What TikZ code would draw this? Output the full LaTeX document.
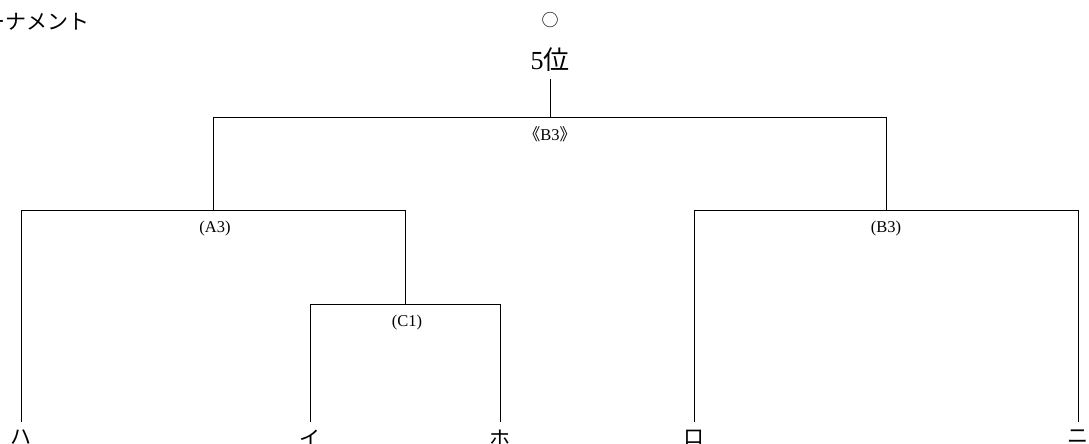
\documentclass[tikz,border=0pt]{standalone}
\usepackage{fontspec}
\setmainfont{Liberation Serif}
\newfontfamily\jp{Noto Sans CJK JP}
\tikzset{
  tline/.style={line width=0.9pt, black},
  leaf/.style={font=\jp\fontsize{21}{21}\selectfont, inner sep=0pt, anchor=north},
  mlabel/.style={font=\fontsize{16.5}{16.5}\selectfont, inner sep=0pt},
}
\begin{document}
\begin{tikzpicture}[x=1pt,y=-1pt]
\useasboundingbox (0,0) rectangle (1089,444);
% title and top
\node[font=\jp\fontsize{21}{21}\selectfont, inner sep=0pt, anchor=east] (title) at (90,22) {トーナメント};
\node[font=\jp\fontsize{17}{17}\selectfont, inner sep=0pt] (circ) at (550,20) {○};
\node[font=\fontsize{26}{26}\selectfont, inner sep=0pt] (rank) at (550,60) {5{\jp 位}};
% junction coordinates
\coordinate (top) at (550,79);
\coordinate (r) at (550,117);
\coordinate (rl) at (213,117);
\coordinate (rr) at (886,117);
\coordinate (a) at (213,210.5);
\coordinate (al) at (21,210.5);
\coordinate (ar) at (405,210.5);
\coordinate (c) at (405,304.5);
\coordinate (cl) at (310,304.5);
\coordinate (cr) at (500,304.5);
\coordinate (b) at (886,210.5);
\coordinate (bl) at (694,210.5);
\coordinate (br) at (1078,210.5);
% leaf ends
\coordinate (e1) at (21,422);
\coordinate (e2) at (310,422);
\coordinate (e3) at (500,422);
\coordinate (e4) at (694,422);
\coordinate (e5) at (1078,422);
% leaves
\node[leaf] (ha) at (21,430) {ハ};
\node[leaf] (i) at (310,430) {イ};
\node[leaf] (ho) at (500,430) {ホ};
\node[leaf] (ro) at (694,430) {ロ};
\node[leaf] (ni) at (1078,430) {ニ};
% match labels
\node[mlabel] (lr) at (550,134) {{\jp 《}B3{\jp 》}};
\node[mlabel] (la) at (215,229) {(A3)};
\node[mlabel] (lc) at (407,323) {(C1)};
\node[mlabel] (lb) at (886,229) {(B3)};
% lines
\draw[tline] (top) -- (r);
\draw[tline] (a) -- (rl) -- (rr) -- (b);
\draw[tline] (e1) -- (al) -- (ar) -- (c);
\draw[tline] (e2) -- (cl) -- (cr) -- (e3);
\draw[tline] (e4) -- (bl) -- (br) -- (e5);
\end{tikzpicture}
\end{document}
